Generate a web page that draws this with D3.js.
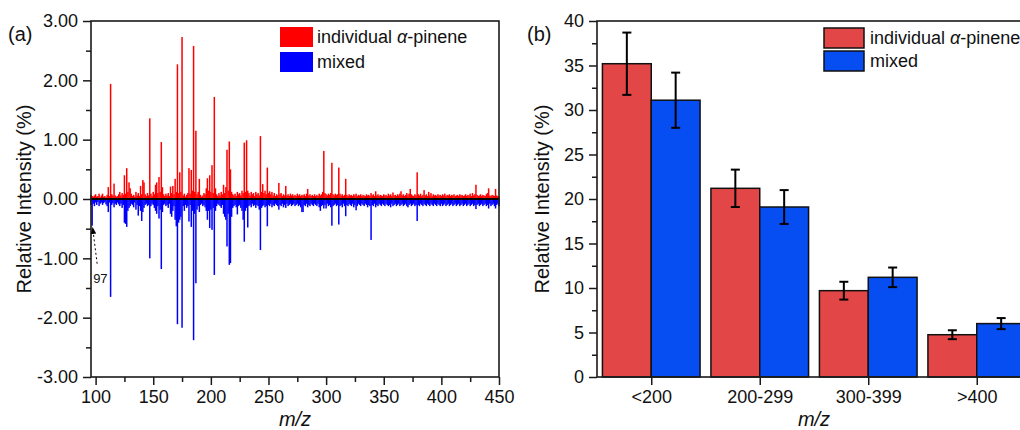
<!DOCTYPE html>
<html>
<head>
<meta charset="utf-8">
<script src="https://cdn.jsdelivr.net/npm/d3@7"></script>
<style>
  body { margin: 0; background: #fff; }
  svg { display: block; font-family: "Liberation Sans", Arial, sans-serif; }
</style>
</head>
<body>
<svg id="chart" width="1020" height="430"></svg>
<script>
// ---------- Panel (a) data: m/z 96..450 (integer masses) ----------
const mzStart = 96;
const mzEnd = 450;
const individualSpectrum = [
  0.07,0.05,0.04,0.06,0.08,0.04,0.05,0.09,0.03,0.06,
  0.09,0.04,0.05,0.03,0.07,0.20,0.05,1.94,0.08,0.06,
  0.26,0.06,0.04,0.05,0.08,0.12,0.06,0.10,0.07,0.40,
  0.09,0.52,0.12,0.28,0.18,0.09,0.05,0.07,0.04,0.12,
  0.06,0.10,0.05,0.22,0.08,0.32,0.28,0.08,0.05,0.10,
  0.06,1.36,0.09,0.05,0.12,0.08,0.24,0.28,0.10,0.37,
  0.12,0.96,0.20,0.08,0.05,0.09,0.06,0.10,0.05,0.21,
  0.10,0.22,0.08,0.34,0.12,2.27,0.10,0.45,0.12,2.73,
  0.06,0.09,0.04,0.07,0.10,0.52,0.09,0.49,0.14,2.58,
  0.12,1.15,0.08,0.12,0.34,0.07,0.04,0.06,0.10,0.08,
  0.18,0.35,0.14,0.40,0.12,0.57,0.10,1.72,0.18,0.08,
  0.05,0.10,0.06,0.12,0.08,0.24,0.10,0.20,0.83,0.14,
  0.97,0.50,0.12,0.08,0.06,0.09,0.05,0.12,0.08,0.10,
  0.06,0.14,0.10,0.95,0.12,0.99,0.14,0.10,0.06,0.12,
  0.08,0.10,0.05,0.12,0.08,0.10,0.06,1.06,0.12,0.25,
  0.10,0.14,0.08,0.53,0.10,0.13,0.08,0.12,0.06,0.10,
  0.05,0.08,0.06,0.27,0.08,0.10,0.05,0.08,0.06,0.22,
  0.06,0.08,0.05,0.09,0.06,0.08,0.05,0.07,0.05,0.09,
  0.06,0.08,0.05,0.07,0.06,0.08,0.05,0.09,0.17,0.06,
  0.08,0.05,0.07,0.05,0.08,0.05,0.07,0.05,0.09,0.06,
  0.08,0.12,0.81,0.10,0.08,0.06,0.09,0.07,0.10,0.61,
  0.08,0.06,0.09,0.07,0.08,0.53,0.09,0.06,0.08,0.05,
  0.07,0.34,0.07,0.05,0.08,0.06,0.07,0.05,0.08,0.06,
  0.09,0.05,0.07,0.06,0.08,0.05,0.07,0.06,0.05,0.08,
  0.06,0.07,0.05,0.10,0.06,0.08,0.05,0.13,0.06,0.08,
  0.05,0.07,0.06,0.05,0.08,0.06,0.07,0.05,0.09,0.06,
  0.08,0.05,0.11,0.06,0.07,0.05,0.08,0.06,0.09,0.13,
  0.06,0.08,0.05,0.07,0.10,0.06,0.09,0.17,0.08,0.06,
  0.05,0.08,0.06,0.45,0.08,0.06,0.09,0.05,0.07,0.15,
  0.06,0.08,0.05,0.12,0.06,0.10,0.05,0.08,0.06,0.07,
  0.05,0.08,0.06,0.07,0.05,0.08,0.06,0.09,0.05,0.07,
  0.06,0.08,0.05,0.07,0.06,0.08,0.05,0.06,0.07,0.05,
  0.08,0.06,0.07,0.05,0.06,0.08,0.05,0.07,0.06,0.09,
  0.05,0.10,0.06,0.08,0.24,0.07,0.05,0.06,0.08,0.05,
  0.07,0.06,0.05,0.08,0.10,0.18,0.06,0.05,0.07,0.06,
  0.05,0.17,0.06,0.05,0.04
];
const mixedSpectrum = [
  -0.10,-0.45,-0.08,-0.12,-0.06,-0.10,-0.05,-0.12,-0.08,-0.06,
  -0.10,-0.07,-0.05,-0.09,-0.12,-0.22,-0.06,-1.65,-0.10,-0.07,
  -0.14,-0.08,-0.10,-0.06,-0.09,-0.12,-0.08,-0.15,-0.10,-0.40,
  -0.42,-0.47,-0.20,-0.15,-0.12,-0.08,-0.10,-0.14,-0.06,-0.18,
  -0.10,-0.28,-0.12,-0.20,-0.37,-0.22,-0.15,-0.10,-0.08,-0.12,
  -0.10,-1.00,-0.12,-0.08,-0.10,-0.15,-0.20,-0.25,-0.12,-0.33,
  -0.18,-1.18,-0.22,-0.10,-0.08,-0.12,-0.10,-0.15,-0.08,-0.25,
  -0.30,-0.20,-0.12,-0.35,-0.46,-2.11,-0.40,-0.35,-0.30,-2.17,
  -0.12,-0.20,-0.10,-0.15,-0.12,-0.38,-0.10,-0.47,-0.20,-2.38,
  -0.25,-1.42,-0.18,-0.12,-0.22,-0.10,-0.08,-0.12,-0.10,-0.14,
  -0.20,-0.35,-0.20,-0.49,-0.18,-0.52,-0.15,-1.28,-0.20,-0.12,
  -0.08,-0.10,-0.12,-0.15,-0.10,-0.25,-0.30,-0.35,-0.80,-0.25,
  -1.11,-1.08,-0.30,-0.15,-0.12,-0.10,-0.14,-0.26,-0.12,-0.10,
  -0.15,-0.20,-0.35,-0.72,-0.20,-0.15,-0.48,-0.12,-0.10,-0.14,
  -0.08,-0.12,-0.10,-0.15,-0.10,-0.12,-0.18,-0.86,-0.15,-0.12,
  -0.10,-0.14,-0.12,-0.46,-0.10,-0.12,-0.08,-0.14,-0.10,-0.12,
  -0.08,-0.10,-0.12,-0.18,-0.10,-0.12,-0.08,-0.14,-0.10,-0.15,
  -0.08,-0.12,-0.10,-0.08,-0.12,-0.10,-0.08,-0.12,-0.10,-0.08,
  -0.12,-0.10,-0.14,-0.22,-0.22,-0.10,-0.12,-0.08,-0.14,-0.10,
  -0.12,-0.08,-0.10,-0.12,-0.08,-0.10,-0.12,-0.08,-0.14,-0.20,
  -0.12,-0.10,-0.16,-0.10,-0.16,-0.08,-0.12,-0.10,-0.14,-0.45,
  -0.12,-0.10,-0.08,-0.12,-0.10,-0.43,-0.12,-0.10,-0.14,-0.08,
  -0.12,-0.29,-0.10,-0.12,-0.08,-0.10,-0.12,-0.08,-0.14,-0.10,
  -0.19,-0.12,-0.08,-0.10,-0.12,-0.08,-0.10,-0.12,-0.08,-0.10,
  -0.14,-0.10,-0.12,-0.69,-0.10,-0.12,-0.08,-0.14,-0.10,-0.12,
  -0.08,-0.10,-0.12,-0.08,-0.10,-0.12,-0.08,-0.10,-0.12,-0.10,
  -0.14,-0.08,-0.12,-0.10,-0.08,-0.12,-0.10,-0.08,-0.12,-0.10,
  -0.08,-0.12,-0.10,-0.08,-0.12,-0.14,-0.10,-0.08,-0.12,-0.10,
  -0.08,-0.12,-0.10,-0.37,-0.10,-0.12,-0.08,-0.10,-0.12,-0.08,
  -0.10,-0.12,-0.08,-0.10,-0.12,-0.08,-0.10,-0.12,-0.08,-0.10,
  -0.12,-0.08,-0.10,-0.12,-0.08,-0.12,-0.10,-0.08,-0.12,-0.10,
  -0.08,-0.12,-0.10,-0.08,-0.12,-0.10,-0.08,-0.12,-0.10,-0.08,
  -0.12,-0.10,-0.08,-0.12,-0.10,-0.08,-0.12,-0.10,-0.08,-0.12,
  -0.10,-0.08,-0.12,-0.10,-0.17,-0.10,-0.08,-0.12,-0.10,-0.08,
  -0.12,-0.10,-0.08,-0.12,-0.10,-0.16,-0.08,-0.12,-0.10,-0.08,
  -0.12,-0.16,-0.10,-0.08,-0.12
];
const aXTicks = [100, 150, 200, 250, 300, 350, 400, 450];
const aXTickLabels = ["100", "150", "200", "250", "300", "350", "400", "450"];
const aYTicks = [-3, -2, -1, 0, 1, 2, 3];
const aYTickLabels = ["-3.00", "-2.00", "-1.00", "0.00", "1.00", "2.00", "3.00"];
const annotatedMz = 97;

// ---------- Panel (b) data ----------
const categories = ["<200", "200-299", "300-399", ">400"];
const individualShare = [35.2, 21.2, 9.7, 4.75];
const individualErr = [3.5, 2.1, 1.0, 0.5];
const mixedShare = [31.1, 19.1, 11.2, 6.0];
const mixedErr = [3.1, 1.9, 1.1, 0.62];
const bYTicks = [0, 5, 10, 15, 20, 25, 30, 35, 40];
const seriesNames = ["individual α-pinene", "mixed"];

// ---------- drawing ----------
const svg = d3.select("#chart");
const FONT = 18;
const axisColor = "#1a1a1a";

function styleAxis(g) {
  g.select(".domain").remove();
  g.selectAll(".tick line").attr("stroke", axisColor).attr("stroke-width", 1.5);
  g.selectAll(".tick text").attr("fill", "#111").style("font-size", FONT + "px")
   .style("font-family", '"Liberation Sans", Arial, sans-serif');
}

// ===== Panel (a) =====
const A = {left: 91, right: 499, top: 21, bottom: 377};
const xA = d3.scaleLinear().domain([mzStart, mzEnd]).range([A.left, A.right]);
const yA = d3.scaleLinear().domain([-3, 3]).range([A.bottom, A.top]);
const spec = d3.range(mzStart, mzEnd + 1).map((mz, i) => ({mz, ind: individualSpectrum[i], mix: mixedSpectrum[i]}));
const BW = 1.5;

const gA = svg.append("g");
gA.append("g").selectAll("rect").data(spec).join("rect")
  .attr("x", d => xA(d.mz) - BW / 2).attr("width", BW)
  .attr("y", d => yA(d.ind)).attr("height", d => yA(0) - yA(d.ind))
  .attr("fill", "#ff0000");
gA.append("g").selectAll("rect").data(spec).join("rect")
  .attr("x", d => xA(d.mz) - BW / 2).attr("width", BW)
  .attr("y", d => yA(0)).attr("height", d => yA(d.mix) - yA(0))
  .attr("fill", "#0000ff");
// zero line
gA.append("line").attr("x1", A.left).attr("x2", A.right).attr("y1", yA(0)).attr("y2", yA(0))
  .attr("stroke", "#000").attr("stroke-width", 2);

// axes
const aYMinor = d3.range(-3, 3.01, 0.5).filter(v => Math.abs(v - Math.round(v)) > 0.01);
gA.append("g").attr("transform", `translate(${A.left},0)`)
  .call(d3.axisLeft(yA).tickValues(aYMinor).tickSize(5).tickFormat(""))
  .call(styleAxis);
gA.append("g").attr("transform", `translate(${A.left},0)`)
  .call(d3.axisLeft(yA).tickValues(aYTicks).tickSize(8).tickPadding(5)
    .tickFormat((d, i) => aYTickLabels[i]))
  .call(styleAxis);
const aXMinor = d3.range(125, 450, 50);
gA.append("g").attr("transform", `translate(0,${A.bottom})`)
  .call(d3.axisBottom(xA).tickValues(aXMinor).tickSize(5).tickFormat(""))
  .call(styleAxis);
gA.append("g").attr("transform", `translate(0,${A.bottom})`)
  .call(d3.axisBottom(xA).tickValues(aXTicks).tickSize(8).tickPadding(5)
    .tickFormat((d, i) => aXTickLabels[i]))
  .call(styleAxis);
gA.append("rect").attr("x", A.left).attr("y", A.top).attr("width", A.right - A.left).attr("height", A.bottom - A.top)
  .attr("fill", "none").attr("stroke", axisColor).attr("stroke-width", 1.6);

// legend (a)
const legA = gA.append("g");
[["#ff0000", 27], ["#0000ff", 52]].forEach(([c, y], i) => {
  legA.append("rect").attr("x", 280).attr("y", y).attr("width", 33).attr("height", 20).attr("fill", c);
  const t = legA.append("text").attr("x", 317).attr("y", y + 16).style("font-size", FONT + "px").attr("fill", "#111");
  if (i === 0) {
    t.append("tspan").text("individual ");
    t.append("tspan").style("font-style", "italic").text("α");
    t.append("tspan").text("-pinene");
  } else t.text(seriesNames[1]);
});

// annotation 97
svg.append("defs").append("marker").attr("id", "arr").attr("viewBox", "0 0 10 10")
  .attr("refX", 9).attr("refY", 5).attr("markerWidth", 7).attr("markerHeight", 7).attr("orient", "auto")
  .append("path").attr("d", "M0,1 L10,5 L0,9 Z").attr("fill", "#000");
const annV = mixedSpectrum[annotatedMz - mzStart];
gA.append("line").attr("x1", xA(annotatedMz) + 5).attr("y1", yA(annV) + 38)
  .attr("x2", xA(annotatedMz) + 0.5).attr("y2", yA(annV) + 2)
  .attr("stroke", "#000").attr("stroke-width", 1).attr("stroke-dasharray", "2,2.5")
  .attr("marker-end", "url(#arr)");
gA.append("text").attr("x", xA(annotatedMz) + 1).attr("y", yA(annV) + 57)
  .style("font-size", "13px").attr("fill", "#111").text(String(annotatedMz));

// titles (a)
gA.append("text").attr("x", 8).attr("y", 41).style("font-size", "20px").attr("fill", "#111").text("(a)");
gA.append("text").attr("transform", `translate(31,${(A.top + A.bottom) / 2}) rotate(-90)`)
  .attr("text-anchor", "middle").style("font-size", "20px").attr("fill", "#111").text("Relative Intensity (%)");
gA.append("text").attr("x", (A.left + A.right) / 2).attr("y", 426).attr("text-anchor", "middle")
  .style("font-size", "20px").style("font-style", "italic").attr("fill", "#111").text("m/z");

// ===== Panel (b) =====
const B = {left: 597, right: 1031, top: 21, bottom: 377};
const xB = d3.scaleLinear().domain([0.5, 4.5]).range([B.left, B.right]);
const yB = d3.scaleLinear().domain([0, 40]).range([B.bottom, B.top]);
const gB = svg.append("g");
const redB = "#e34646", blueB = "#064ef1";
const barW = 0.45;
const bData = categories.map((c, i) => ({c, i: i + 1, ind: individualShare[i], indE: individualErr[i], mix: mixedShare[i], mixE: mixedErr[i]}));

gB.selectAll("rect.ind").data(bData).join("rect").attr("class", "ind")
  .attr("x", d => xB(d.i - barW)).attr("width", d => xB(d.i) - xB(d.i - barW))
  .attr("y", d => yB(d.ind)).attr("height", d => yB(0) - yB(d.ind))
  .attr("fill", redB).attr("stroke", "#111").attr("stroke-width", 1.5);
gB.selectAll("rect.mix").data(bData).join("rect").attr("class", "mix")
  .attr("x", d => xB(d.i)).attr("width", d => xB(d.i + barW) - xB(d.i))
  .attr("y", d => yB(d.mix)).attr("height", d => yB(0) - yB(d.mix))
  .attr("fill", blueB).attr("stroke", "#111").attr("stroke-width", 1.5);

function errBars(key, ekey, off) {
  const g = gB.append("g").attr("stroke", "#000").attr("stroke-width", 2);
  bData.forEach(d => {
    const cx = xB(d.i + off);
    const t = yB(d[key] + d[ekey]), b = yB(d[key] - d[ekey]);
    g.append("line").attr("x1", cx).attr("x2", cx).attr("y1", t).attr("y2", b);
    g.append("line").attr("x1", cx - 4.5).attr("x2", cx + 4.5).attr("y1", t).attr("y2", t);
    g.append("line").attr("x1", cx - 4.5).attr("x2", cx + 4.5).attr("y1", b).attr("y2", b);
  });
}
errBars("ind", "indE", -barW / 2);
errBars("mix", "mixE", barW / 2);

const bYMinor = d3.range(2.5, 40, 5);
gB.append("g").attr("transform", `translate(${B.left},0)`)
  .call(d3.axisLeft(yB).tickValues(bYMinor).tickSize(5).tickFormat(""))
  .call(styleAxis);
gB.append("g").attr("transform", `translate(${B.left},0)`)
  .call(d3.axisLeft(yB).tickValues(bYTicks).tickSize(8).tickPadding(5).tickFormat(d3.format("d")))
  .call(styleAxis);
gB.append("g").attr("transform", `translate(0,${B.bottom})`)
  .call(d3.axisBottom(xB).tickValues([1, 2, 3, 4]).tickSize(8).tickPadding(5).tickFormat((d, i) => categories[i]))
  .call(styleAxis);
gB.append("rect").attr("x", B.left).attr("y", B.top).attr("width", B.right - B.left).attr("height", B.bottom - B.top)
  .attr("fill", "none").attr("stroke", axisColor).attr("stroke-width", 1.6);

// legend (b)
[[redB, 28], [blueB, 51]].forEach(([c, y], i) => {
  gB.append("rect").attr("x", 824).attr("y", y).attr("width", 40).attr("height", 20)
    .attr("fill", c).attr("stroke", "#111").attr("stroke-width", 1.5);
  const t = gB.append("text").attr("x", 870).attr("y", y + 16).style("font-size", FONT + "px").attr("fill", "#111");
  if (i === 0) {
    t.append("tspan").text("individual ");
    t.append("tspan").style("font-style", "italic").text("α");
    t.append("tspan").text("-pinene");
  } else t.text(seriesNames[1]);
});

gB.append("text").attr("x", 527).attr("y", 41).style("font-size", "20px").attr("fill", "#111").text("(b)");
gB.append("text").attr("transform", `translate(549,${(B.top + B.bottom) / 2}) rotate(-90)`)
  .attr("text-anchor", "middle").style("font-size", "20px").attr("fill", "#111").text("Relative Intensity (%)");
gB.append("text").attr("x", (B.left + B.right) / 2).attr("y", 426).attr("text-anchor", "middle")
  .style("font-size", "20px").style("font-style", "italic").attr("fill", "#111").text("m/z");
</script>
</body>
</html>
